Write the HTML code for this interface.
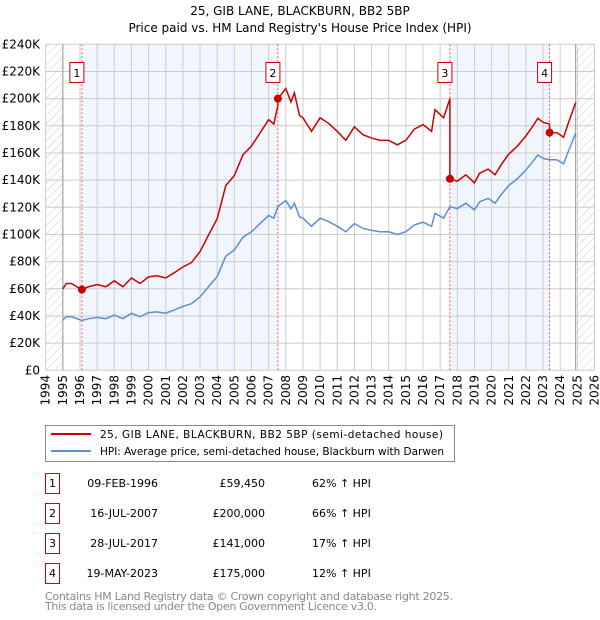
<!DOCTYPE html>
<html><head><meta charset="utf-8"><style>
body{margin:0;background:#fff;width:600px;height:620px;overflow:hidden;font-family:"DejaVu Sans","Liberation Sans",sans-serif;}
svg{display:block}
</style></head><body>
<svg id="chart" width="600" height="620" viewBox="0 0 600 620">
<defs>
<pattern id="hatch" width="6" height="6" patternUnits="userSpaceOnUse" patternTransform="rotate(45)">
<line x1="0" y1="0" x2="0" y2="6" stroke="#ccc" stroke-width="1"/></pattern>
<clipPath id="plotclip"><rect x="45.7" y="44" width="549" height="327"/></clipPath>
</defs>
<text x="300" y="15" text-anchor="middle" font-size="12">25, GIB LANE, BLACKBURN, BB2 5BP</text>
<text x="300" y="32" text-anchor="middle" font-size="12">Price paid vs. HM Land Registry's House Price Index (HPI)</text>
<g id="plot"></g>
<g>
<rect x="45.5" y="425.5" width="409" height="36" fill="#fff" stroke="#888"/>
<line x1="51" y1="434" x2="91" y2="434" stroke="#cc0000" stroke-width="2"/>
<text x="100" y="438" font-size="10.5" textLength="343">25, GIB LANE, BLACKBURN, BB2 5BP (semi-detached house)</text>
<line x1="51" y1="451" x2="91" y2="451" stroke="#5b8fd4" stroke-width="2"/>
<text x="100" y="455" font-size="10.5" textLength="344">HPI: Average price, semi-detached house, Blackburn with Darwen</text>
</g>
<g id="table"></g>
<text x="45" y="600" font-size="11" fill="#888" textLength="408">Contains HM Land Registry data © Crown copyright and database right 2025.</text>
<text x="45" y="610" font-size="11" fill="#888" textLength="332">This data is licensed under the Open Government Licence v3.0.</text>
</svg>
<script>
const hpiYears=[1995.0,1995.2,1995.5,1996.1,1996.5,1997,1997.5,1998,1998.5,1999,1999.5,2000,2000.5,2001,2001.5,2002,2002.5,2003,2003.5,2004,2004.5,2005,2005.5,2006,2006.5,2007,2007.3,2007.54,2008,2008.3,2008.5,2008.8,2009,2009.5,2010,2010.5,2011,2011.5,2012,2012.5,2013,2013.5,2014,2014.5,2015,2015.5,2016,2016.5,2016.7,2017.2,2017.57,2018,2018.5,2019,2019.3,2019.8,2020.2,2020.6,2021,2021.5,2022,2022.3,2022.7,2023,2023.38,2023.8,2024.2,2024.5,2024.9];
const hpiValues=[37,39.5,39.5,36.7,38,39,38,40.7,38,42,39.5,42.5,43,42,44.4,47,49,54,61.6,69,84,88.6,98,102,108,114,112,120.5,125,119,123,113,112,106,112,109.5,106,102,108,104.5,103,102,102,100,102,107,109,106,115.6,112,120.5,119,123,118,124,126.6,123,130,136,141,147.5,152,158.5,156,155,155,152,162,174.5];
const saleYears=[1996.11,2007.54,2017.57,2023.38];
const salePrices=[59.45,200,141,175];
const saleLabels=["1","2","3","4"];
const saleDates=["09-FEB-1996","16-JUL-2007","28-JUL-2017","19-MAY-2023"];
const salePriceText=["£59,450","£200,000","£141,000","£175,000"];
const salePct=["62% ↑ HPI","66% ↑ HPI","17% ↑ HPI","12% ↑ HPI"];
const yTicks=[0,20,40,60,80,100,120,140,160,180,200,220,240];
const xTicks=[1994,1995,1996,1997,1998,1999,2000,2001,2002,2003,2004,2005,2006,2007,2008,2009,2010,2011,2012,2013,2014,2015,2016,2017,2018,2019,2020,2021,2022,2023,2024,2025,2026];

const X=y=>45.7+(y-1994)*17.15;
const Y=v=>370.3-v*326/240;
const NS="http://www.w3.org/2000/svg";
function mk(tag,attrs,parent){const e=document.createElementNS(NS,tag);for(const k in attrs)e.setAttribute(k,attrs[k]);parent.appendChild(e);return e;}
function hpiAt(t){if(t<=hpiYears[0])return hpiValues[0];for(let i=1;i<hpiYears.length;i++){if(t<=hpiYears[i]){const f=(t-hpiYears[i-1])/(hpiYears[i]-hpiYears[i-1]);return hpiValues[i-1]+f*(hpiValues[i]-hpiValues[i-1]);}}return hpiValues[hpiValues.length-1];}
const plot=document.getElementById('plot');
for(let i=0;i<saleYears.length;i+=2){
 const r=mk('rect',{x:X(saleYears[i]),y:Y(240),width:X(saleYears[i+1])-X(saleYears[i]),height:Y(0)-Y(240),fill:'#eef3fc',opacity:0.8},plot);
 
 
}
const h1=mk('rect',{x:X(1994),y:Y(240),width:X(1995)-X(1994),height:Y(0)-Y(240),fill:'url(#hatch)'},plot);


const h2=mk('rect',{x:X(2024.9),y:Y(240),width:X(2026)-X(2024.9),height:Y(0)-Y(240),fill:'url(#hatch)'},plot);


yTicks.forEach(v=>{
 mk('line',{x1:X(1994),x2:X(2026),y1:Y(v),y2:Y(v),stroke:'#ccc','stroke-width':1},plot);
 const t=mk('text',{x:40,y:Y(v)+4,'text-anchor':'end','font-size':12},plot);t.textContent=v===0?'£0':'£'+v+'K';
 
 
});
xTicks.forEach(y=>{
 mk('line',{x1:X(y),x2:X(y),y1:Y(240),y2:Y(0),stroke:'#ccc','stroke-width':1},plot);
 const t=mk('text',{x:0,y:0,'text-anchor':'end','font-size':12,transform:`translate(${X(y)+4},375) rotate(-90)`},plot);t.textContent=y;
 
 
});
mk('line',{x1:X(1995),x2:X(1995),y1:Y(240),y2:Y(0),stroke:'#999'},plot);
mk('line',{x1:X(2024.9),x2:X(2024.9),y1:Y(240),y2:Y(0),stroke:'#999'},plot);
saleYears.forEach(s=>{mk('line',{x1:X(s),x2:X(s),y1:Y(240),y2:Y(0),stroke:'#e55','stroke-width':1,'stroke-dasharray':'2,2'},plot);});
const hp=mk('polyline',{points:hpiYears.map((y,i)=>X(y)+','+Y(hpiValues[i])).join(' '),fill:'none',stroke:'#5b8fd4','stroke-width':1.5,'clip-path':'url(#plotclip)'},plot);


const pts=[];
const times=hpiYears.slice();saleYears.forEach(s=>{times.push(s-0.001);times.push(s);});times.sort((a,b)=>a-b);
times.forEach(t=>{let k=0;for(let i=0;i<saleYears.length;i++)if(t>=saleYears[i])k=i;const r=salePrices[k]/hpiAt(saleYears[k]);pts.push(X(t)+','+Y(hpiAt(t)*r));});
const pl=mk('polyline',{points:pts.join(' '),fill:'none',stroke:'#cc0000','stroke-width':1.5,'clip-path':'url(#plotclip)'},plot);


saleYears.forEach((s,i)=>{
 const c=mk('circle',{cx:X(s),cy:Y(salePrices[i]),r:4,fill:'#cc0000'},plot);
 
 
 const g=mk('g',{},plot);
 
 
 mk('rect',{x:X(s)-12,y:62.5,width:14,height:20,fill:'#fff',stroke:'#cc0000'},g);
 const t=mk('text',{x:X(s)-5,y:77,'text-anchor':'middle','font-size':11},g);t.textContent=saleLabels[i];
});
const tb=document.getElementById('table');
saleYears.forEach((s,i)=>{
 const cy=483+i*30;
 const g=mk('g',{},tb);
 
 
 mk('rect',{x:45.5,y:cy-9.5,width:14,height:20,fill:'#fff',stroke:'#cc0000'},g);
 let t=mk('text',{x:52.5,y:cy+4,'text-anchor':'middle','font-size':11},g);t.textContent=saleLabels[i];
 t=mk('text',{x:158,y:cy+4,'text-anchor':'end','font-size':11},g);t.textContent=saleDates[i];
 t=mk('text',{x:265,y:cy+4,'text-anchor':'end','font-size':11},g);t.textContent=salePriceText[i];
 t=mk('text',{x:312,y:cy+4,'font-size':11},g);t.textContent=salePct[i];
});
</script>
</body></html>
